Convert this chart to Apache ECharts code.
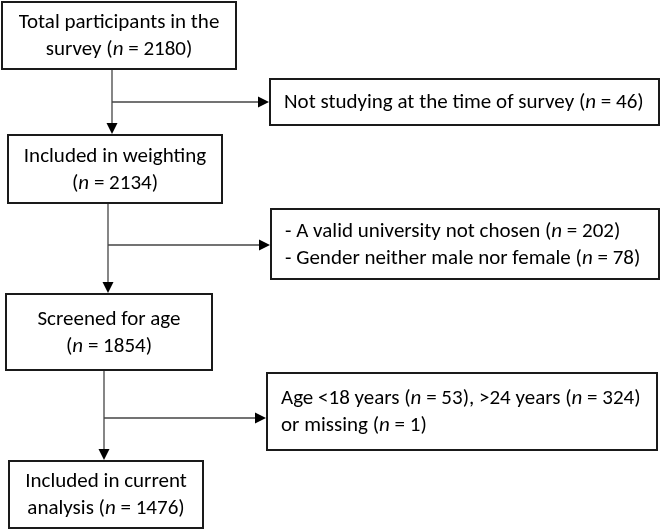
<!DOCTYPE html>
<html>
<head>
<meta charset="utf-8">
<script src="https://cdn.jsdelivr.net/npm/echarts@6/dist/echarts.min.js"></script>
<style>html,body{margin:0;padding:0;background:#fff;}#c{width:661px;height:529px;}</style>
</head>
<body>
<div id="c"></div>
<script>
// ---- data ----
const mainStageLines = [
  ['Total participants in the', 'survey'],
  ['Included in weighting', ''],
  ['Screened for age', ''],
  ['Included in current', 'analysis']
];
const mainCounts = [2180, 2134, 1854, 1476];
const exclusionReasons = [
  ['Not studying at the time of survey'],
  ['- A valid university not chosen', '- Gender neither male nor female'],
  ['Age <18 years', '>24 years', 'or missing']
];
const exclusionCounts = [[46], [202, 78], [53, 324, 1]];

// ---- layout (positions / sizes, not data) ----
const W = 661, H = 529;
const mainBoxes = [
  {x: 2, y: 2, w: 234, h: 67},
  {x: 8, y: 135, w: 214, h: 68},
  {x: 6, y: 294, w: 206, h: 76},
  {x: 9, y: 461, w: 194, h: 67}
];
const sideBoxes = [
  {x: 270, y: 79, w: 389, h: 46},
  {x: 271, y: 209, w: 388, h: 70},
  {x: 267, y: 373, w: 390, h: 77}
];
const exclusionLineGroups = [[[0]], [[0], [1]], [[0, 1], [2]]];
const trunkX = [112, 108, 104];
const branchY = [102, 245, 418];

const FONT = 'Carlito, Lato, "Open Sans", sans-serif';
const FS = 21, LH = 27;
const rich = {
  r: {fontFamily: FONT, fontSize: FS, lineHeight: LH, fill: '#000'},
  i: {fontFamily: FONT, fontSize: FS, lineHeight: LH, fill: '#000', fontStyle: 'italic'}
};
function nPart(prefix, count) {
  return `{r|${prefix}(}{i|n}{r| = ${count})}`;
}
function mainText(i) {
  const [l1, l2] = mainStageLines[i];
  return `{r|${l1}}\n` + nPart(l2 ? l2 + ' ' : '', mainCounts[i]);
}
function sideText(i) {
  return exclusionLineGroups[i].map(group =>
    group.map(k => nPart(exclusionReasons[i][k] + ' ', exclusionCounts[i][k])).join('{r|, }')
  ).join('\n');
}

const chart = echarts.init(document.getElementById('c'), null, {renderer: 'canvas'});

function boxRender(kind) {
  return function (params, api) {
    const i = api.value(0);
    const b = kind === 'main' ? mainBoxes[i] : sideBoxes[i];
    const p0 = api.coord([b.x, b.y]);
    const p1 = api.coord([b.x + b.w, b.y + b.h]);
    const x = p0[0], y = p0[1], w = p1[0] - p0[0], h = p1[1] - p0[1];
    const isMain = kind === 'main';
    return {
      type: 'group',
      children: [
        {type: 'rect', shape: {x, y, width: w, height: h},
         style: {fill: '#fff', stroke: '#1a1a1a', lineWidth: 2}},
        {type: 'text',
         style: {
           text: isMain ? mainText(i) : sideText(i),
           rich: rich,
           x: isMain ? x + w / 2 : x + 14,
           y: y + h / 2 + 1,
           align: isMain ? 'center' : 'left',
           verticalAlign: 'middle',
           fontFamily: FONT, fontSize: FS, lineHeight: LH, fill: '#000'
         }}
      ]
    };
  };
}

function connRender(params, api) {
  const i = api.value(0);
  const top = mainBoxes[i], bot = mainBoxes[i + 1], side = sideBoxes[i];
  const tx = trunkX[i], by = branchY[i];
  const a = api.coord([tx, top.y + top.h]);
  const b = api.coord([tx, bot.y - 1]);
  const c = api.coord([tx, by]);
  const d = api.coord([side.x - 1, by]);
  const lineStyle = {stroke: '#444', lineWidth: 1.3};
  const AL = 11, AW = 5.5;
  return {
    type: 'group',
    children: [
      {type: 'line', shape: {x1: a[0], y1: a[1], x2: b[0], y2: b[1] - AL + 1}, style: lineStyle},
      {type: 'polygon', shape: {points: [[b[0], b[1]], [b[0] - AW, b[1] - AL], [b[0] + AW, b[1] - AL]]},
       style: {fill: '#000'}},
      {type: 'line', shape: {x1: c[0], y1: c[1], x2: d[0] - AL + 1, y2: d[1]}, style: lineStyle},
      {type: 'polygon', shape: {points: [[d[0], d[1]], [d[0] - AL, d[1] - AW], [d[0] - AL, d[1] + AW]]},
       style: {fill: '#000'}}
    ]
  };
}

chart.setOption({
  animation: false,
  backgroundColor: '#fff',
  grid: {left: 0, right: 0, top: 0, bottom: 0},
  xAxis: {type: 'value', min: 0, max: W, show: false},
  yAxis: {type: 'value', min: 0, max: H, inverse: true, show: false},
  series: [
    {type: 'custom', silent: true, renderItem: connRender, data: [[0], [1], [2]], z: 1},
    {type: 'custom', silent: true, renderItem: boxRender('main'), data: mainCounts.map((_, i) => [i]), z: 2},
    {type: 'custom', silent: true, renderItem: boxRender('side'), data: exclusionCounts.map((_, i) => [i]), z: 2}
  ]
});
</script>
</body>
</html>
